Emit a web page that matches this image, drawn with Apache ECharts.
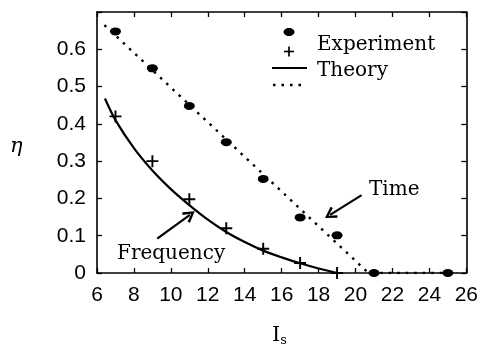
<!DOCTYPE html>
<html><head><meta charset="utf-8">
<script src="https://cdn.jsdelivr.net/npm/echarts@6/dist/echarts.min.js"></script>
<style>html,body{margin:0;padding:0;background:#fff}#c{width:481px;height:347px}</style>
</head><body><div id="c"></div>
<script>
// x-axis tick values and y tick values
const xTicks = [6, 8, 10, 12, 14, 16, 18, 20, 22, 24, 26];
const yTicks = [0, 0.1, 0.2, 0.3, 0.4, 0.5, 0.6];
// Time-domain experiment (filled ellipses)
const timeExpX = [7, 9, 11, 13, 15, 17, 19, 21, 25];
const timeExpY = [0.648, 0.549, 0.448, 0.351, 0.252, 0.149, 0.101, 0, 0];
// Time-domain theory (dotted)
const timeThX = [6.4, 20.7, 25.5];
const timeThY = [0.665, 0, 0];
// Frequency-domain experiment (plus marks)
const freqExpX = [7, 9, 11, 13, 15, 17, 19];
const freqExpY = [0.42, 0.30, 0.198, 0.12, 0.065, 0.027, 0];
// Frequency-domain theory (solid)
const freqThX = [6.43, 7, 8, 9, 10, 11, 12, 13, 14, 15, 16, 17, 18, 19];
const freqThY = [0.468, 0.41, 0.335, 0.275, 0.225, 0.182, 0.143, 0.11, 0.083, 0.06, 0.042, 0.026, 0.012, 0];
// annotation arrows [fromX, fromY, toX, toY]
const timeArrow = [20.33, 0.209, 18.62, 0.156];
const freqArrow = [9.26, 0.092, 11.03, 0.156];

const zip = (a, b) => a.map((v, i) => [v, b[i]]);
const serif = '"DejaVu Serif", serif';
const sans = '"Liberation Sans", Arial, sans-serif';
const plusPath = 'path://M4.2,0 H5.8 V4.2 H10 V5.8 H5.8 V10 H4.2 V5.8 H0 V4.2 H4.2 Z';
const chevron = 'path://M5,0 L10,8 L8.3,9 L5,3.2 L1.7,9 L0,8 Z';

const chart = echarts.init(document.getElementById('c'), null, {renderer: 'canvas'});
const axisCommon = {
  axisLine: {show: true, onZero: false, lineStyle: {color: '#000', width: 1.6}},
  axisTick: {show: true, inside: true, length: 5, lineStyle: {color: '#000', width: 1.3}},
  splitLine: {show: false}
};
function arrowLine(a) {
  return {
    type: 'line', data: [], silent: true,
    markLine: {
      silent: true, symbol: ['none', chevron], symbolSize: [13, 12],
      label: {show: false},
      lineStyle: {color: '#000', width: 2.2, type: 'solid', opacity: 1},
      data: [[{coord: [a[0], a[1]]}, {coord: [a[2], a[3]]}]]
    }
  };
}
chart.setOption({
  backgroundColor: '#fff',
  animation: false,
  grid: {left: 97, right: 10, top: 12, bottom: 74},
  xAxis: [
    Object.assign({}, axisCommon, {type: 'value', min: xTicks[0], max: xTicks[xTicks.length - 1], interval: 2,
      position: 'bottom',
      axisLabel: {color: '#000', fontSize: 21, fontFamily: sans, margin: 12}}),
    Object.assign({}, axisCommon, {type: 'value', min: xTicks[0], max: xTicks[xTicks.length - 1], interval: 2,
      position: 'top', axisLabel: {show: false}})
  ],
  yAxis: [
    Object.assign({}, axisCommon, {type: 'value', min: 0, max: 0.7, interval: 0.1, position: 'left',
      axisLabel: {color: '#000', fontSize: 21, fontFamily: sans, margin: 11,
        formatter: v => (v > 0.65 ? '' : (v === 0 ? '0' : v.toFixed(1)))}}),
    Object.assign({}, axisCommon, {type: 'value', min: 0, max: 0.7, interval: 0.1, position: 'right',
      axisLabel: {show: false}})
  ],
  series: [
    {type: 'line', data: zip(freqThX, freqThY), smooth: 0.3, symbol: 'none',
      lineStyle: {color: '#000', width: 2.2}},
    {type: 'line', data: zip(timeThX, timeThY), symbol: 'none',
      lineStyle: {color: '#000', width: 2.4, type: [2.5, 6]}},
    {type: 'scatter', data: zip(timeExpX, timeExpY), symbol: 'circle', symbolSize: [11, 8],
      itemStyle: {color: '#000', opacity: 1}},
    {type: 'scatter', data: zip(freqExpX, freqExpY), symbol: plusPath, symbolSize: 12,
      itemStyle: {color: '#000', opacity: 1}},
    arrowLine(timeArrow),
    arrowLine(freqArrow)
  ],
  graphic: [
    {type: 'ellipse', shape: {cx: 289, cy: 32, rx: 5.5, ry: 4}, style: {fill: '#000'}},
    {type: 'line', shape: {x1: 284, y1: 51.5, x2: 294, y2: 51.5}, style: {stroke: '#000', lineWidth: 1.7}},
    {type: 'line', shape: {x1: 289, y1: 46.5, x2: 289, y2: 56.5}, style: {stroke: '#000', lineWidth: 1.7}},
    {type: 'line', shape: {x1: 272, y1: 68, x2: 307, y2: 68}, style: {stroke: '#000', lineWidth: 2.2}},
    {type: 'line', shape: {x1: 273, y1: 85, x2: 307, y2: 85}, style: {stroke: '#000', lineWidth: 2.4, lineDash: [2.5, 6]}},
    {type: 'text', left: 317, top: 35, style: {text: 'Experiment', font: '20px ' + serif, fill: '#000'}},
    {type: 'text', left: 317, top: 61, style: {text: 'Theory', font: '20px ' + serif, fill: '#000'}},
    {type: 'text', left: 369, top: 180, style: {text: 'Time', font: '20px ' + serif, fill: '#000'}},
    {type: 'text', left: 117, top: 244, style: {text: 'Frequency', font: '20px ' + serif, fill: '#000'}},
    {type: 'text', left: 10, top: 136, style: {text: 'η', font: 'italic 21px ' + serif, fill: '#000'}},
    {type: 'text', left: 272, top: 325, style: {text: '{a|I}{b|s}',
      rich: {a: {fontSize: 21, fontFamily: serif, color: '#000'},
             b: {fontSize: 13, fontFamily: serif, color: '#000', padding: [10, 0, 0, 0]}}}}
  ]
});
</script></body></html>
